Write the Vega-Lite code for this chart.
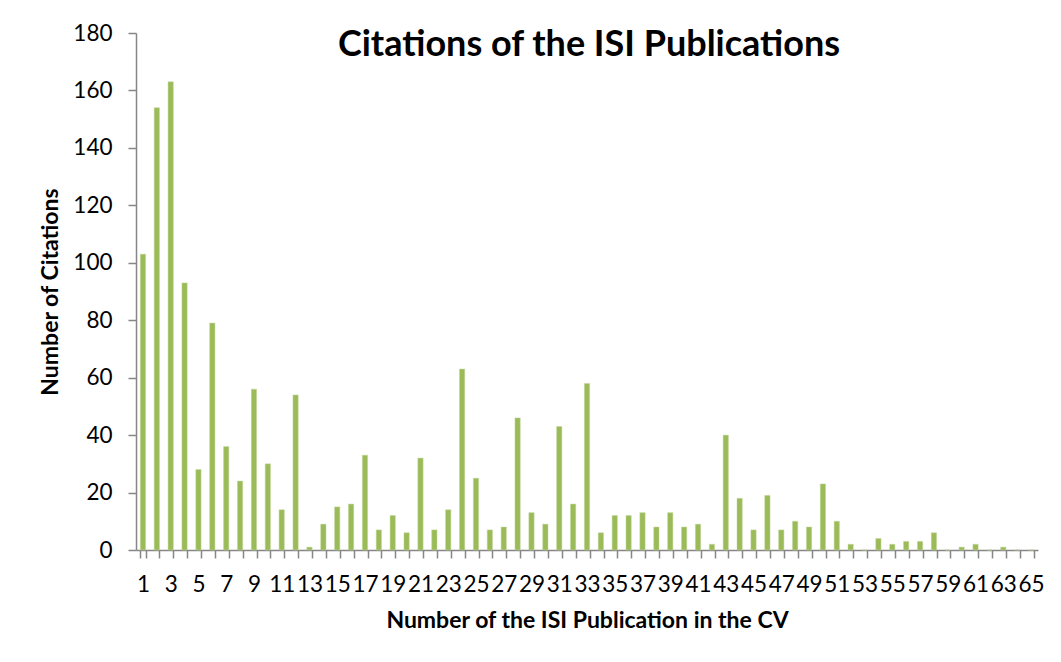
{
  "$schema": "https://vega.github.io/schema/vega-lite/v6.json",
  "autosize": {"type": "none"},
  "padding": {"left": 136, "top": 33, "right": 23, "bottom": 112},
  "width": 902,
  "height": 517,
  "background": "white",
  "title": {
    "text": "Citations of the ISI Publications",
    "font": "Lato",
    "fontSize": 36,
    "fontWeight": "bold",
    "color": "black",
    "anchor": "middle",
    "frame": "group",
    "baseline": "alphabetic",
    "offset": 0,
    "dx": 2,
    "dy": 70
  },
  "data": {
    "values": [
      {"pub": 1, "citations": 103}, {"pub": 2, "citations": 154}, {"pub": 3, "citations": 163},
      {"pub": 4, "citations": 93}, {"pub": 5, "citations": 28}, {"pub": 6, "citations": 79},
      {"pub": 7, "citations": 36}, {"pub": 8, "citations": 24}, {"pub": 9, "citations": 56},
      {"pub": 10, "citations": 30}, {"pub": 11, "citations": 14}, {"pub": 12, "citations": 54},
      {"pub": 13, "citations": 1}, {"pub": 14, "citations": 9}, {"pub": 15, "citations": 15},
      {"pub": 16, "citations": 16}, {"pub": 17, "citations": 33}, {"pub": 18, "citations": 7},
      {"pub": 19, "citations": 12}, {"pub": 20, "citations": 6}, {"pub": 21, "citations": 32},
      {"pub": 22, "citations": 7}, {"pub": 23, "citations": 14}, {"pub": 24, "citations": 63},
      {"pub": 25, "citations": 25}, {"pub": 26, "citations": 7}, {"pub": 27, "citations": 8},
      {"pub": 28, "citations": 46}, {"pub": 29, "citations": 13}, {"pub": 30, "citations": 9},
      {"pub": 31, "citations": 43}, {"pub": 32, "citations": 16}, {"pub": 33, "citations": 58},
      {"pub": 34, "citations": 6}, {"pub": 35, "citations": 12}, {"pub": 36, "citations": 12},
      {"pub": 37, "citations": 13}, {"pub": 38, "citations": 8}, {"pub": 39, "citations": 13},
      {"pub": 40, "citations": 8}, {"pub": 41, "citations": 9}, {"pub": 42, "citations": 2},
      {"pub": 43, "citations": 40}, {"pub": 44, "citations": 18}, {"pub": 45, "citations": 7},
      {"pub": 46, "citations": 19}, {"pub": 47, "citations": 7}, {"pub": 48, "citations": 10},
      {"pub": 49, "citations": 8}, {"pub": 50, "citations": 23}, {"pub": 51, "citations": 10},
      {"pub": 52, "citations": 2}, {"pub": 53, "citations": 0}, {"pub": 54, "citations": 4},
      {"pub": 55, "citations": 2}, {"pub": 56, "citations": 3}, {"pub": 57, "citations": 3},
      {"pub": 58, "citations": 6}, {"pub": 59, "citations": 0}, {"pub": 60, "citations": 1},
      {"pub": 61, "citations": 2}, {"pub": 62, "citations": 0}, {"pub": 63, "citations": 1},
      {"pub": 64, "citations": 0}, {"pub": 65, "citations": 0}
    ]
  },
  "mark": {"type": "bar", "color": "#9BBB59", "stroke": "#C3D69B", "strokeWidth": 0.5},
  "encoding": {
    "x": {
      "field": "pub",
      "type": "ordinal",
      "scale": {"paddingInner": 0.62, "paddingOuter": 0.31},
      "axis": {
        "title": "Number of the ISI Publication in the CV",
        "titleFont": "Lato",
        "titleFontSize": 23,
        "titleFontWeight": "bold",
        "titleColor": "black",
        "titlePadding": 14,
        "labelFont": "Lato",
        "labelFontSize": 22.5,
        "labelColor": "black",
        "labelAngle": 0,
        "labelOverlap": false,
        "labelFlush": false,
        "labelPadding": 15,
        "labelExpr": "datum.value % 2 == 1 ? datum.label : ''",
        "tickBand": "extent",
        "tickSize": 8,
        "tickColor": "#868686",
        "tickWidth": 1.5,
        "domainColor": "#868686",
        "domainWidth": 1.5,
        "grid": false
      }
    },
    "y": {
      "field": "citations",
      "type": "quantitative",
      "scale": {"domain": [0, 180], "nice": false},
      "axis": {
        "title": "Number of Citations",
        "titleFont": "Lato",
        "titleFontSize": 23,
        "titleFontWeight": "bold",
        "titleColor": "black",
        "titlePadding": 10,
        "values": [0, 20, 40, 60, 80, 100, 120, 140, 160, 180],
        "labelFont": "Lato",
        "labelFontSize": 22.5,
        "labelColor": "black",
        "labelPadding": 16,
        "tickSize": 8,
        "tickColor": "#868686",
        "tickWidth": 1.5,
        "domainColor": "#868686",
        "domainWidth": 1.5,
        "grid": false
      }
    }
  },
  "config": {"view": {"stroke": null}}
}
